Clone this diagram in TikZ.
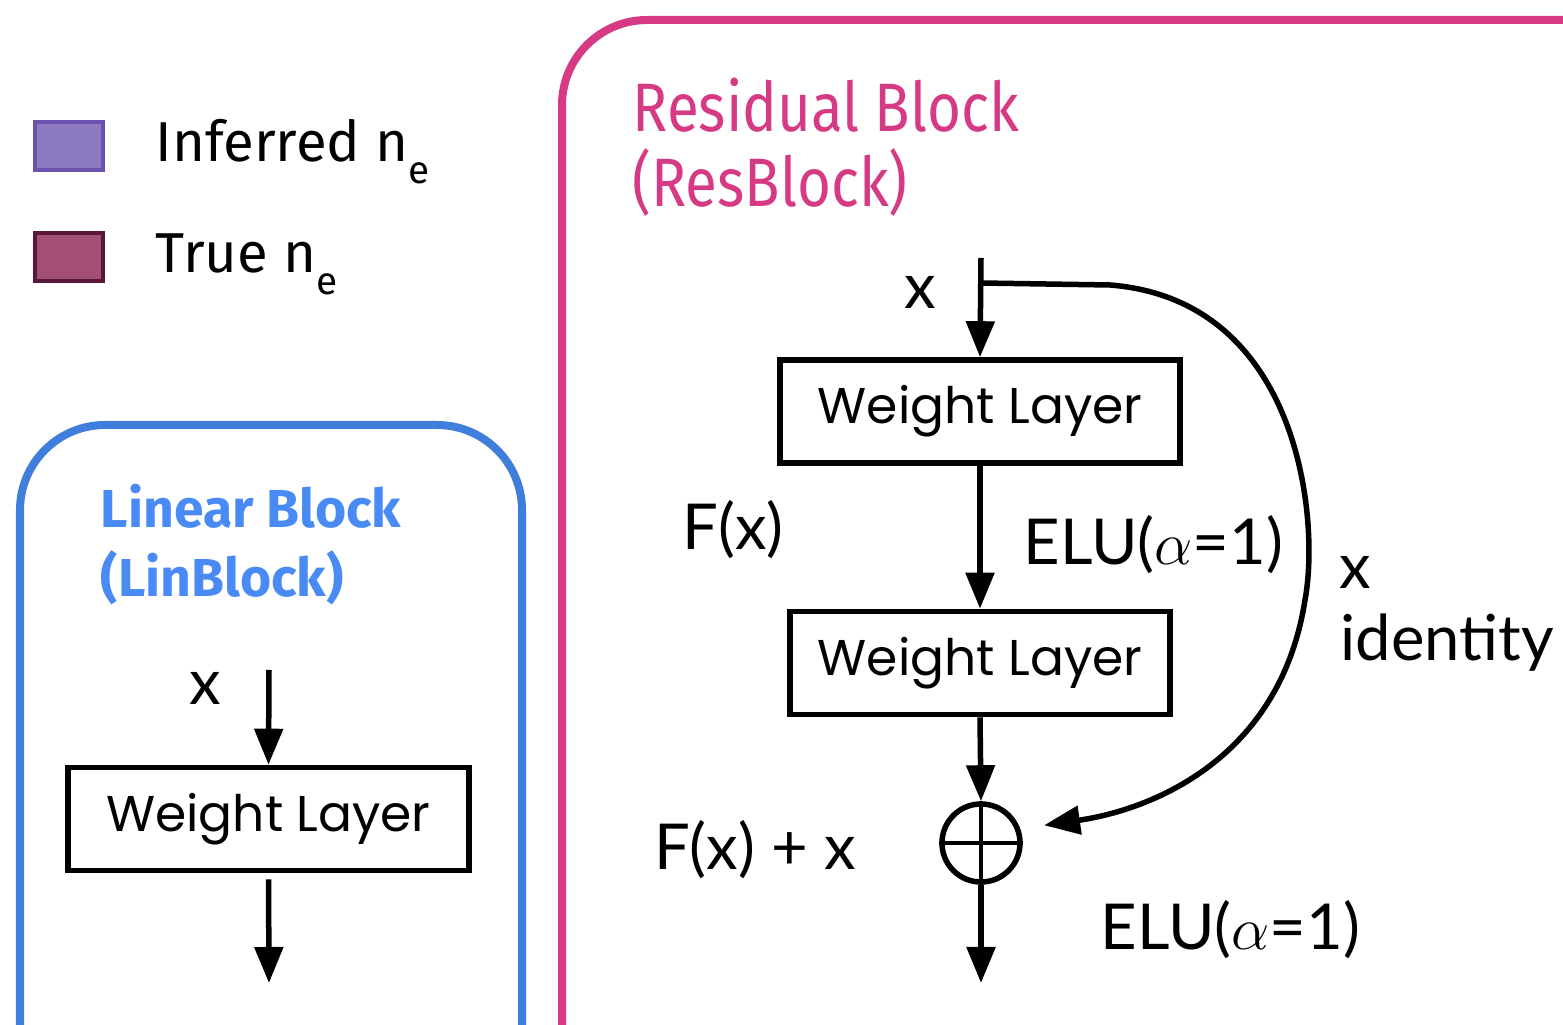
\documentclass[tikz,border=0pt]{standalone}
\usepackage{fontspec}
\setmainfont{Lato}
\newfontfamily\wlfont{Poppins}
\newfontfamily\titlefont{Fira Sans}
\newfontfamily\restitlefont[FakeStretch=0.85]{Fira Sans}
\newfontfamily\legfont{Fira Sans}
\usetikzlibrary{arrows.meta}
\definecolor{infFill}{HTML}{8C7BC0}
\definecolor{infDraw}{HTML}{6B52AE}
\definecolor{trueFill}{HTML}{A34E74}
\definecolor{trueDraw}{HTML}{5A1838}
\definecolor{blueC}{HTML}{3F7FDB}
\definecolor{blueT}{HTML}{4A8AF4}
\definecolor{pinkC}{HTML}{D63A84}
\tikzset{
  arr/.style={line width=0.055cm, -{Triangle[length=0.36cm,width=0.28cm]}},
  wlbox/.style={draw, line width=0.055cm, inner sep=0pt, minimum height=1.03cm, font=\wlfont\fontsize{14.3}{17}\selectfont},
  lbl/.style={font=\fontsize{18}{21}\selectfont, inner sep=0pt},
  legbox/.style={line width=0.045cm, minimum width=0.68cm, minimum height=0.48cm, inner sep=0pt},
  legtxt/.style={font=\legfont\fontsize{16}{19}\selectfont, inner sep=0pt, anchor=base west},
  frame/.style={line width=0.08cm, rounded corners=0.85cm}
}
\begin{document}
\begin{tikzpicture}[x=0.01cm,y=-0.01cm]
\useasboundingbox (0,0) rectangle (1563,1025);
\clip (0,0) rectangle (1563,1025);
% legend
\node[legbox, fill=infFill, draw=infDraw] (leg1) at (69,146) {};
\node[legbox, fill=trueFill, draw=trueDraw] (leg2) at (69,257) {};
\node[legtxt] (leg1t) at (155,162) {Inferred n\raisebox{-0.21cm}{\fontsize{11}{11}\selectfont e}};
\node[legtxt] (leg2t) at (155,273) {True n\raisebox{-0.21cm}{\fontsize{11}{11}\selectfont e}};
% frames
\draw[frame, blueC] (20,425) rectangle (522,1120);
\draw[frame, pinkC] (562,20) rectangle (1660,1120);
% titles
\node[anchor=base west, inner sep=0pt, text=blueT, font=\titlefont\fontsize{15.2}{18}\selectfont\bfseries] (lt1) at (100,528) {Linear Block};
\node[anchor=base west, inner sep=0pt, text=blueT, font=\titlefont\fontsize{15.2}{18}\selectfont\bfseries] (lt2) at (100,597) {(LinBlock)};
\node[anchor=base west, inner sep=0pt, text=pinkC, font=\restitlefont\fontsize{19.5}{23}\selectfont] (rt1) at (632,132) {Residual Block};
\node[anchor=base west, inner sep=0pt, text=pinkC, font=\restitlefont\fontsize{19.5}{23}\selectfont] (rt2) at (632,207) {(ResBlock)};
% linear block
\coordinate (lin) at (269,670);
\node[wlbox, minimum width=4.01cm] (wl3) at (268.5,819) {Weight Layer};
\coordinate (lout) at (269,983);
\node[lbl] (lx) at (205,688) {x};
\draw[arr] (lin) -- (wl3.north);
\draw[arr, shorten <=0.06cm] (wl3.south) -- (lout);
% residual block
\coordinate (rin) at (981,258);
\coordinate (rsk) at (981,283);
\node[wlbox, minimum width=4.0cm] (wl1) at (980,411.5) {Weight Layer};
\node[wlbox, minimum width=3.8cm] (wl2) at (980,663) {Weight Layer};
\node[circle, draw, line width=0.055cm, minimum size=0.78cm, inner sep=0pt] (plus) at (981,843) {};
\draw[line width=0.045cm] (plus.north) -- (plus.south) (plus.west) -- (plus.east);
\coordinate (rout) at (981,983);
\draw[arr] (rin) -- (wl1.north);
\draw[arr] (wl1.south) -- (wl2.north);
\draw[arr] (wl2.south) -- (plus.north);
\draw[arr] (plus.south) -- (rout);
\draw[arr, shorten >=0.24cm] (rsk) -- (1110,285) .. controls (1300,300) and (1320,520) .. (1305,600) .. controls (1280,760) and (1150,810) .. (plus.20);
% labels
\node[lbl] (rx) at (920,292) {x};
\node[lbl] (fx) at (733,530) {F(x)};
\node[lbl, anchor=west] (elu1) at (1023,545) {ELU($\alpha$=1)};
\node[lbl] (fxx) at (755,850) {F(x) + x};
\node[lbl, anchor=west] (elu2) at (1100,930) {ELU($\alpha$=1)};
\node[lbl] (idx) at (1355,572) {x};
\node[lbl, anchor=west] (idt) at (1340,643) {identity};
\end{tikzpicture}
\end{document}
